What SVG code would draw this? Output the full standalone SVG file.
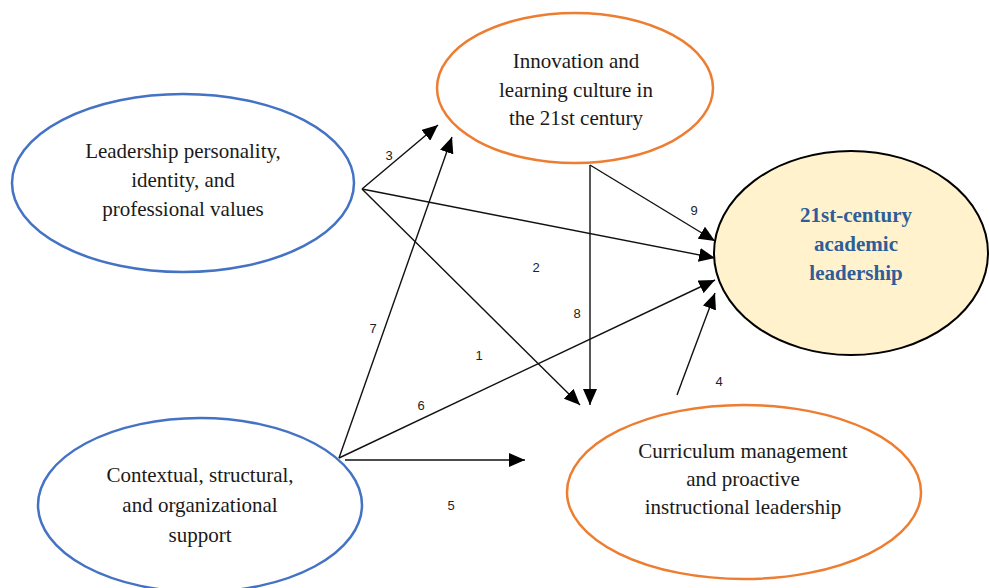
<svg xmlns="http://www.w3.org/2000/svg" width="989" height="588" viewBox="0 0 989 588">
<style>
.t{font-family:"Liberation Serif","Times New Roman",serif;font-size:21px;fill:#1a1a1a;text-anchor:middle}
.b{font-family:"Liberation Serif","Times New Roman",serif;font-size:21px;font-weight:bold;fill:#2E5D9A;text-anchor:middle}
.n{font-family:"Liberation Sans",Arial,sans-serif;font-size:13px;fill:#222;text-anchor:middle}
.blue{fill:#fff;stroke:#4472C4;stroke-width:2.5}
.orange{fill:#fff;stroke:#ED7D31;stroke-width:2.5}
.c line{stroke:#111;stroke-width:1.4;marker-end:url(#ah)}
</style>
<defs>
<marker id="ah" markerUnits="userSpaceOnUse" markerWidth="18" markerHeight="14" refX="16" refY="7" orient="auto">
<path d="M0,0 L16,7 L0,14 Z" fill="#000"/>
</marker>
</defs>
<rect width="989" height="588" fill="#fff"/>
<g id="lead">
<ellipse class="blue" cx="183" cy="183" rx="171" ry="89"/>
<text class="t" x="183" y="158">Leadership personality,</text>
<text class="t" x="183" y="187">identity, and</text>
<text class="t" x="183" y="216">professional values</text>
</g>
<g id="innov">
<ellipse class="orange" cx="575" cy="88" rx="138" ry="75"/>
<text class="t" x="576" y="68">Innovation and</text>
<text class="t" x="576" y="97">learning culture in</text>
<text class="t" x="576" y="125">the 21st century</text>
</g>
<g id="acad">
<ellipse cx="851" cy="253" rx="137" ry="102" fill="#FFF2CC" stroke="#000" stroke-width="2"/>
<text class="b" x="856" y="222">21st-century</text>
<text class="b" x="856" y="251">academic</text>
<text class="b" x="856" y="280">leadership</text>
</g>
<g id="curr">
<ellipse class="orange" cx="744" cy="492" rx="177" ry="87"/>
<text class="t" x="743" y="458">Curriculum management</text>
<text class="t" x="743" y="486">and proactive</text>
<text class="t" x="743" y="514">instructional leadership</text>
</g>
<g id="ctx">
<ellipse class="blue" cx="200" cy="505" rx="162" ry="87"/>
<text class="t" x="200" y="482">Contextual, structural,</text>
<text class="t" x="200" y="512">and organizational</text>
<text class="t" x="200" y="542">support</text>
</g>
<g class="c" id="connectors">
<line x1="362" y1="189" x2="438" y2="125"/>
<line x1="362" y1="189" x2="715" y2="258"/>
<line x1="362" y1="189" x2="580" y2="405"/>
<line x1="339" y1="458" x2="452" y2="137"/>
<line x1="339" y1="458" x2="715" y2="280"/>
<line x1="345" y1="460" x2="525" y2="460"/>
<line x1="590" y1="165" x2="590" y2="405"/>
<line x1="590" y1="165" x2="715" y2="241"/>
<line x1="677" y1="395" x2="715" y2="293"/>
</g>
<g id="labels">
<text class="n" x="389" y="160">3</text>
<text class="n" x="536" y="272">2</text>
<text class="n" x="479" y="360">1</text>
<text class="n" x="373" y="333">7</text>
<text class="n" x="421" y="410">6</text>
<text class="n" x="451" y="510">5</text>
<text class="n" x="577" y="318">8</text>
<text class="n" x="694" y="215">9</text>
<text class="n" x="719" y="386">4</text>
</g>
</svg>
